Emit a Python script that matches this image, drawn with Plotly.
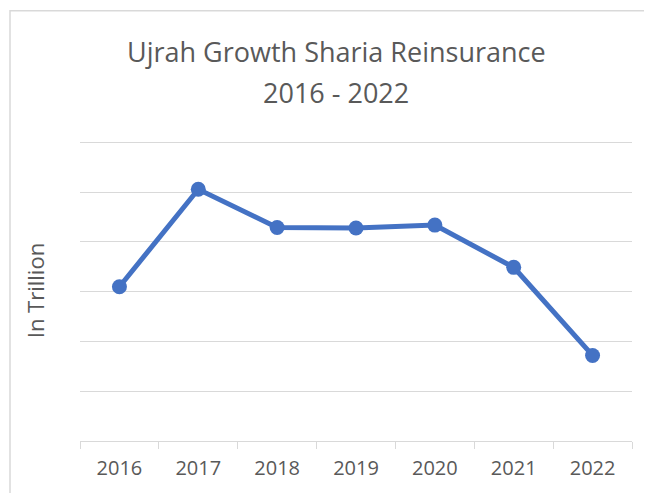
import plotly.graph_objects as go

years = ["2016", "2017", "2018", "2019", "2020", "2021", "2022"]
ujrah = [3.10, 5.06, 4.29, 4.28, 4.34, 3.49, 1.72]
title_lines = ["Ujrah Growth Sharia Reinsurance", "2016 - 2022"]

# page body has an 8px default margin; figure sized to fit the window
OFF = 8
W, H = 652 - OFF, 493 - OFF
YMAX = 6.05
L = 80 - OFF
R = W - (632 - OFF)
B = H - (441 - OFF)
T = (142 - OFF) - (YMAX - 6) * 50
pw, ph = W - L - R, H - T - B

def px_x(x):
    return (x - OFF - L) / pw

def px_y(y):
    return (H - B - (y - OFF)) / ph

fig = go.Figure()
fig.add_trace(go.Scatter(
    x=years, y=ujrah, mode="lines+markers",
    line=dict(color="#4472C4", width=5),
    marker=dict(color="#4472C4", size=15),
    showlegend=False, hoverinfo="skip",
))

font_family = "Open Sans, Lato, sans-serif"

annots = [dict(
    text="In Trillion", textangle=-90,
    xref="paper", yref="paper",
    x=px_x(35), y=px_y(291), xanchor="center", yanchor="middle",
    showarrow=False, font=dict(size=22, color="#595959", family=font_family),
)]
for line, yc in zip(title_lines, [51, 92]):
    annots.append(dict(
        text=line, xref="paper", yref="paper",
        x=px_x(336), y=px_y(yc), xanchor="center", yanchor="middle",
        showarrow=False, font=dict(size=27, color="#595959", family=font_family),
    ))

fig.update_layout(
    width=W, height=H,
    margin=dict(l=L, r=R, t=T, b=B, autoexpand=False),
    paper_bgcolor="white", plot_bgcolor="white",
    font=dict(family=font_family, color="#595959"),
    xaxis=dict(
        type="category", tickson="boundaries",
        ticks="outside", ticklen=7, tickcolor="#D9D9D9", tickwidth=1,
        showline=True, linecolor="#D9D9D9", linewidth=1,
        showgrid=False, zeroline=False,
        tickfont=dict(size=20, color="#595959"),
        ticklabelstandoff=9,
        range=[-0.5, 6.5], fixedrange=True, automargin=False,
    ),
    yaxis=dict(
        range=[0, YMAX], dtick=1, showticklabels=False,
        showgrid=True, gridcolor="#D9D9D9", gridwidth=1,
        zeroline=False, showline=False, ticks="",
        fixedrange=True, automargin=False,
    ),
    annotations=annots,
    shapes=[dict(
        type="rect", xref="paper", yref="paper",
        x0=px_x(10), x1=px_x(670), y0=px_y(510), y1=px_y(10),
        line=dict(color="#D9D9D9", width=1.5), fillcolor="rgba(0,0,0,0)",
        layer="below",
    )],
)

fig.write_html("out.html")
